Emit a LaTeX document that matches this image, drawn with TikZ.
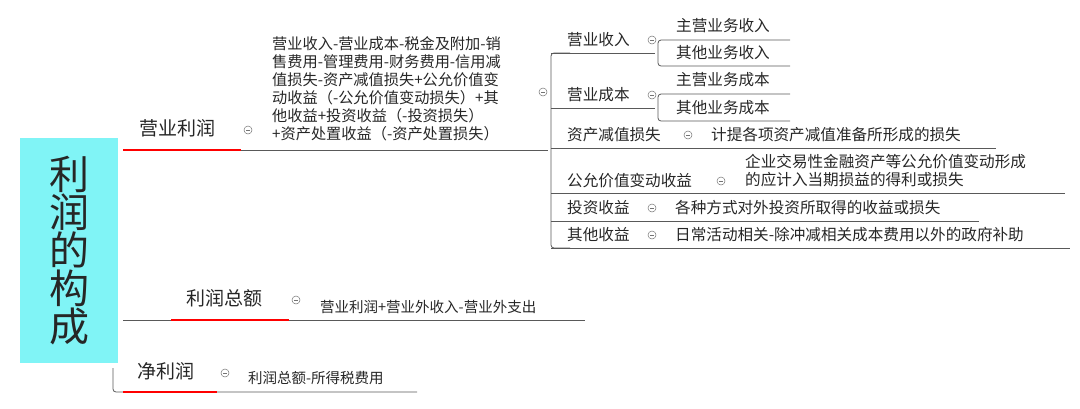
\documentclass[tikz,border=0pt]{standalone}
\usepackage{fontspec}
\setmainfont{Noto Sans CJK SC}
\definecolor{boxc}{RGB}{128,244,246}
\begin{document}
\begin{tikzpicture}[x=1pt,y=-1pt,
  txt/.style={inner sep=0pt,text=black!85,font=\fontsize{15.6}{18}\selectfont},
  big/.style={inner sep=0pt,text=black!85,font=\fontsize{19}{20}\selectfont},
  tog/.style={circle,draw=black!55,line width=0.5pt,minimum size=8pt,inner sep=0pt,
    path picture={\draw[black!55,line width=0.5pt]([xshift=-2pt]path picture bounding box.center)--([xshift=2pt]path picture bounding box.center);}},
  ln/.style={draw=black!65,line width=0.8pt,rounded corners=3pt},
  red/.style={draw=red,line width=2.4pt}]
\useasboundingbox (0,0) rectangle (1080,408);
% main box
\node[fill=boxc,minimum width=98pt,minimum height=225pt,inner sep=0pt,anchor=north west] (root) at (20,138) {};
\node[inner sep=0pt,text=black!85,font=\fontsize{40}{40}\selectfont,align=center] (roott) at (root.center) {利\\[-2pt]润\\[-2pt]的\\[-2pt]构\\[-2pt]成};
% 营业利润
\node[big,anchor=west] (yy) at (139,128) {营业利润};
\node[tog] (c1) at (248,130) {};
\draw[ln] (123,150) -- (548,150);
\draw[red] (123,150) -- (241,150);
\node[txt,anchor=north west,align=left,font=\fontsize{15.2}{18}\selectfont] (f1) at (272,36) {营业收入-营业成本-税金及附加-销\\售费用-管理费用-财务费用-信用减\\值损失-资产减值损失+公允价值变\\动收益（-公允价值变动损失）+其\\他收益+投资收益（-投资损失）\\+资产处置收益（-资产处置损失）};
\node[tog] (c2) at (543,92) {};
% bracket
\draw[ln] (570,53) -- (551,53) -- (551,248) -- (570,248);
\draw[ln] (551,108) -- (655,108);
\draw[ln] (551,53) -- (655,53);
\draw[ln] (551,148) -- (996,148);
\draw[ln] (551,193) -- (1065,193);
\draw[ln] (551,221) -- (979,221);
\draw[ln] (551,248) -- (1070,248);
% 营业收入
\node[txt,anchor=west] (a1) at (567,40) {营业收入};
\node[tog] (ca1) at (652,40) {};
\draw[ln] (790,40) -- (658,40) -- (658,66) -- (790,66);
\node[txt,anchor=west] (a11) at (676,26) {主营业务收入};
\node[txt,anchor=west] (a12) at (676,53) {其他业务收入};
% 营业成本
\node[txt,anchor=west] (a2) at (567,95) {营业成本};
\node[tog] (ca2) at (652,95) {};
\draw[ln] (790,94) -- (658,94) -- (658,121) -- (790,121);
\node[txt,anchor=west] (a21) at (676,80) {主营业务成本};
\node[txt,anchor=west] (a22) at (676,108) {其他业务成本};
% others
\node[txt,anchor=west] (a3) at (567,135) {资产减值损失};
\node[tog] (ca3) at (688,135) {};
\node[txt,anchor=west] (a31) at (711,135) {计提各项资产减值准备所形成的损失};
\node[txt,anchor=west] (a4) at (567,181) {公允价值变动收益};
\node[tog] (ca4) at (721,181) {};
\node[txt,anchor=west,align=left,font=\fontsize{15.6}{18}\selectfont] (a41) at (745,171) {企业交易性金融资产等公允价值变动形成\\的应计入当期损益的得利或损失};
\node[txt,anchor=west] (a5) at (567,208) {投资收益};
\node[tog] (ca5) at (652,208) {};
\node[txt,anchor=west] (a51) at (675,208) {各种方式对外投资所取得的收益或损失};
\node[txt,anchor=west] (a6) at (567,235) {其他收益};
\node[tog] (ca6) at (652,235) {};
\node[txt,anchor=west] (a61) at (675,235) {日常活动相关-除冲减相关成本费用以外的政府补助};
% 利润总额
\node[big,anchor=west] (lz) at (186,298) {利润总额};
\node[tog] (c3) at (296,300) {};
\node[txt,anchor=west,font=\fontsize{14.5}{16}\selectfont] (f3) at (320,307) {营业利润+营业外收入-营业外支出};
\draw[ln] (123,320) -- (585,320);
\draw[red] (171,320) -- (289,320);
% 净利润
\node[big,anchor=west] (jl) at (137,371) {净利润};
\node[tog] (c4) at (225,373) {};
\node[txt,anchor=west,font=\fontsize{14.5}{16}\selectfont] (f4) at (248,378) {利润总额-所得税费用};
\draw[ln] (113,368) -- (113,392) -- (417,392);
\draw[red] (123,392) -- (217,392);
\end{tikzpicture}
\end{document}
